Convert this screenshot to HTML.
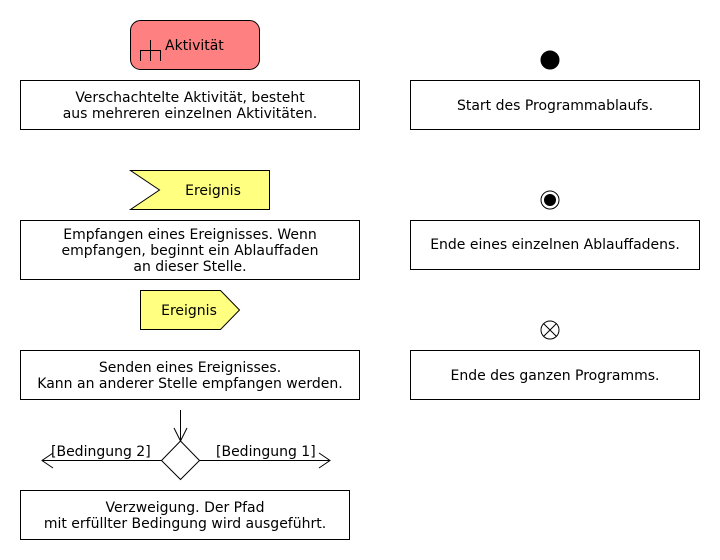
<!DOCTYPE html>
<html><head><meta charset="utf-8"><style>
html,body{margin:0;padding:0;background:#fff;width:720px;height:560px;overflow:hidden}
text{font-family:"DejaVu Sans","Liberation Sans",sans-serif;font-size:14px;fill:#000}
</style></head><body>
<svg width="720" height="560" xmlns="http://www.w3.org/2000/svg">
<g stroke="#000" stroke-width="1" fill="#fff">
<rect x="130.5" y="20.5" width="129" height="49" rx="10" fill="#ff8080"/>
<rect x="20.5" y="80.5" width="339" height="49"/>
<rect x="410.5" y="80.5" width="289" height="49"/>
<rect x="20.5" y="220.5" width="339" height="59"/>
<rect x="410.5" y="220.5" width="289" height="49"/>
<rect x="20.5" y="350.5" width="339" height="49"/>
<rect x="410.5" y="350.5" width="289" height="49"/>
<rect x="20.5" y="490.5" width="329" height="49"/>
<polygon points="130.5,170.5 269.5,170.5 269.5,209.5 130.5,209.5 159.5,190" fill="#ffff80"/>
<polygon points="140.5,290.5 220.5,290.5 239.5,310 220.5,329.5 140.5,329.5" fill="#ffff80"/>
<circle cx="550" cy="60" r="9" fill="#000"/>
<circle cx="550" cy="200" r="9" fill="#fff"/>
<circle cx="550" cy="200" r="6" fill="#000" stroke="none"/>
<circle cx="550" cy="330" r="9" fill="#fff"/>
<line x1="543.6" y1="323.6" x2="556.4" y2="336.4"/>
<line x1="556.4" y1="323.6" x2="543.6" y2="336.4"/>
<polyline points="140.5,61 140.5,50.5 160.5,50.5 160.5,61" fill="none"/>
<line x1="150.5" y1="40" x2="150.5" y2="61"/>
<line x1="180.5" y1="410" x2="180.5" y2="441"/>
<polyline points="174,428 180.5,441 187,428" fill="none"/>
<polygon points="180.5,441 199.5,460.5 180.5,479.5 161.5,460.5"/>
<line x1="161.5" y1="460.5" x2="42" y2="460.5"/>
<polyline points="53,453 42,460.5 53,468" fill="none"/>
<line x1="199.5" y1="460.5" x2="330" y2="460.5"/>
<polyline points="319,453 330,460.5 319,468" fill="none"/>
</g>
<text x="165" y="50">Aktivität</text>
<text x="190" y="102" text-anchor="middle">Verschachtelte Aktivität, besteht</text>
<text x="190" y="118" text-anchor="middle">aus mehreren einzelnen Aktivitäten.</text>
<text x="555" y="110" text-anchor="middle">Start des Programmablaufs.</text>
<text x="213" y="195" text-anchor="middle">Ereignis</text>
<text x="190" y="239" text-anchor="middle">Empfangen eines Ereignisses. Wenn</text>
<text x="190" y="255" text-anchor="middle">empfangen, beginnt ein Ablauffaden</text>
<text x="190" y="271" text-anchor="middle">an dieser Stelle.</text>
<text x="555" y="249" text-anchor="middle">Ende eines einzelnen Ablauffadens.</text>
<text x="189" y="315" text-anchor="middle">Ereignis</text>
<text x="190" y="372" text-anchor="middle">Senden eines Ereignisses.</text>
<text x="190" y="388" text-anchor="middle">Kann an anderer Stelle empfangen werden.</text>
<text x="555" y="380" text-anchor="middle">Ende des ganzen Programms.</text>
<text x="51" y="456">[Bedingung 2]</text>
<text x="216" y="456">[Bedingung 1]</text>
<text x="185" y="512" text-anchor="middle">Verzweigung. Der Pfad</text>
<text x="185" y="528" text-anchor="middle">mit erfüllter Bedingung wird ausgeführt.</text>
</svg>
</body></html>
